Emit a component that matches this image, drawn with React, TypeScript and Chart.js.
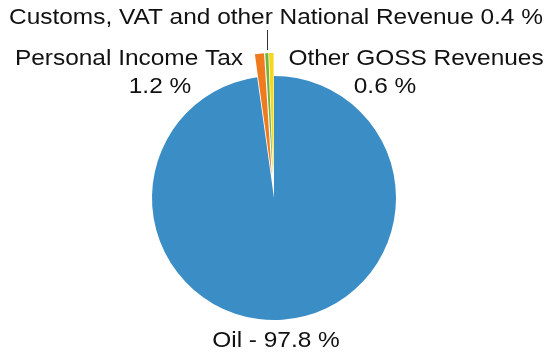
import React, { useEffect, useRef } from "react";
import { Chart, registerables } from "chart.js";

Chart.register(...registerables);

const categories = [
  "Oil",
  "Personal Income Tax",
  "Customs, VAT and other National Revenue",
  "Other GOSS Revenues",
];
const shares = [97.8, 1.2, 0.4, 0.6];
const sliceColors = ["#3a8dc5", "#ef7b1e", "#6fb33d", "#f4d81c"];
// pull-out distance (px) of each slice
const explode = [0, 23, 23, 23];

const labelLines: string[][] = [
  [`${categories[0]} - ${shares[0]} %`],
  [categories[1], `${shares[1]} %`],
  [`${categories[2]} ${shares[2]} %`],
  [categories[3], `${shares[3]} %`],
];

// label layout: [centre x, baseline y] of each line
const labelLayout: number[][][] = [
  [[276, 347]],
  [[129, 65], [160, 93]],
  [[276, 24]],
  [[416, 65], [385, 93]],
];

const FONT = '22px "Liberation Sans", Arial, sans-serif';
const TEXT_SX = 1.11;

const explodePlugin = {
  id: "explodeSlices",
  beforeDatasetDraw(chart: any, args: any) {
    const ctx = chart.ctx;
    const meta = args.meta;
    meta.data.forEach((arc: any, i: number) => {
      const d = explode[i] || 0;
      const mid = (arc.startAngle + arc.endAngle) / 2;
      ctx.save();
      ctx.translate(Math.cos(mid) * d, Math.sin(mid) * d);
      arc.draw(ctx, chart.chartArea);
      ctx.restore();
    });
    return false;
  },
};

const labelPlugin = {
  id: "sliceLabels",
  afterDraw(chart: any) {
    const ctx = chart.ctx;
    const meta = chart.getDatasetMeta(0);
    ctx.save();
    ctx.font = FONT;
    ctx.fillStyle = "#111";
    ctx.textAlign = "center";
    ctx.textBaseline = "alphabetic";
    labelLines.forEach((lines, i) => {
      lines.forEach((t, j) => {
        const [x, y] = labelLayout[i][j];
        ctx.save();
        ctx.translate(x, y);
        ctx.scale(TEXT_SX, 1);
        ctx.fillText(t, 0, 0);
        ctx.restore();
      });
    });
    // leader line to the customs slice
    const arc = meta.data[2];
    if (arc) {
      const mid = (arc.startAngle + arc.endAngle) / 2;
      const r = arc.outerRadius + explode[2];
      const px = arc.x + Math.cos(mid) * r;
      const py = arc.y + Math.sin(mid) * r;
      ctx.strokeStyle = "#333";
      ctx.lineWidth = 1;
      ctx.beginPath();
      ctx.moveTo(Math.round(px) + 0.5, py - 3);
      ctx.lineTo(Math.round(px) + 0.5, 30);
      ctx.stroke();
    }
    ctx.restore();
  },
};

export default function App() {
  const ref = useRef<HTMLCanvasElement | null>(null);
  useEffect(() => {
    if (!ref.current) return;
    const chart = new Chart(ref.current, {
      type: "pie",
      data: {
        labels: categories,
        datasets: [
          {
            data: shares,
            backgroundColor: sliceColors,
            borderWidth: 0,
            radius: 122,
          } as any,
        ],
      },
      options: {
        responsive: false,
        animation: false,
        layout: { padding: { top: 41, left: 0, right: 1, bottom: 0 } },
        plugins: {
          legend: { display: false },
          tooltip: { enabled: false },
        },
      },
      plugins: [explodePlugin, labelPlugin],
    });
    return () => chart.destroy();
  }, []);
  return (
    <div style={{ position: "fixed", left: 0, top: 0, width: 549, height: 355, background: "#fff" }}>
      <canvas ref={ref} width={549} height={355} />
    </div>
  );
}
